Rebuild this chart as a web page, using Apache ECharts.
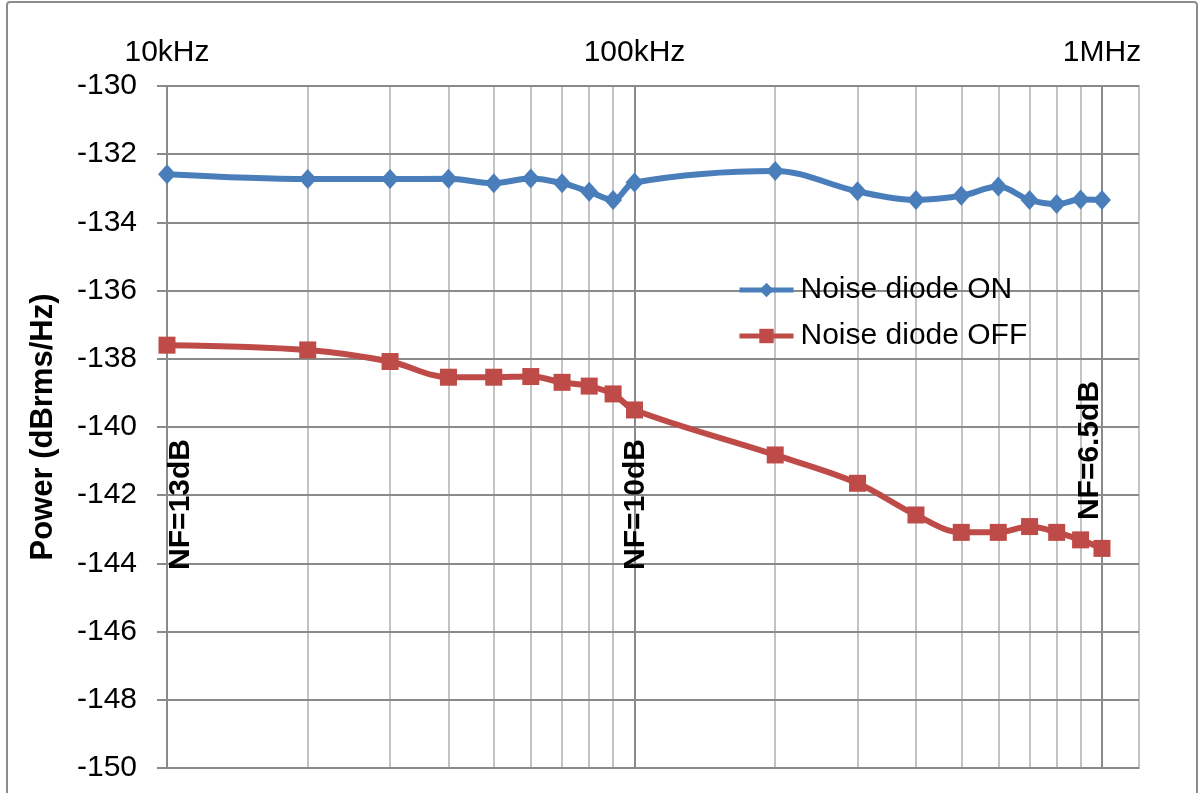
<!DOCTYPE html>
<html>
<head>
<meta charset="utf-8">
<script src="https://cdn.jsdelivr.net/npm/echarts@6/dist/echarts.min.js"></script>
<style>
	html, body { margin: 0; padding: 0; background: #fff; }
	#frame { position: absolute; left: 6px; top: 1px; width: 1188px; height: 820px; border: 2px solid #8c8c8c; border-radius: 4px; }
	#chart { position: absolute; left: 0; top: 0; width: 1199px; height: 793px; }
</style>
</head>
<body>
<div id="frame"></div>
<div id="chart"></div>
<script>
	// frequencies (Hz)
	var freqs = [10000, 20000, 30000, 40000, 50000, 60000, 70000, 80000, 90000,
		100000, 200000, 300000, 400000, 500000, 600000, 700000, 800000, 900000, 1000000];
	// power (dBrms/Hz)
	var diodeOn = [-132.59, -132.73, -132.73, -132.72, -132.85, -132.71, -132.85, -133.10, -133.34,
		-132.83, -132.49, -133.09, -133.34, -133.22, -132.95, -133.34, -133.46, -133.33, -133.34];
	var diodeOff = [-137.60, -137.74, -138.08, -138.54, -138.54, -138.52, -138.69, -138.80, -139.03,
		-139.50, -140.82, -141.65, -142.58, -143.09, -143.09, -142.92, -143.09, -143.31, -143.56];

	var seriesNames = ['Noise diode ON', 'Noise diode OFF'];

	// top axis labels
	var tickValues = [10000, 100000, 1000000];
	var tickLabels = ['10kHz', '100kHz', '1MHz'];

	// vertical grid lines
	var majorFreqs = [10000, 100000, 1000000];
	var minorFreqs = [20000, 30000, 40000, 50000, 60000, 70000, 80000, 90000,
		200000, 300000, 400000, 500000, 600000, 700000, 800000, 900000];

	// NF annotations
	var noteFreqs = [10000, 100000, 1000000];
	var noteStart = [-144.19, -144.19, -142.73];
	var noteTexts = ['NF=13dB', 'NF=10dB', 'NF=6.5dB'];
	var noteShift = [14, 1, -12];

	var FONT = '"Liberation Sans", Arial, sans-serif';
	var GRID_DARK = '#8a8a8a';
	var GRID_LIGHT = '#c3c3c3';

	function pairs(xs, ys){
		var out = [];
		for(var i = 0; i < xs.length; i++)
			out.push([xs[i], ys[i]]);
		return out;
	}

	var gridLines = [];
	for(var i = 0; i < minorFreqs.length; i++)
		gridLines.push({ xAxis: minorFreqs[i], lineStyle: { color: GRID_LIGHT, width: 2, type: 'solid' } });
	for(var j = 0; j < majorFreqs.length; j++)
		gridLines.push({ xAxis: majorFreqs[j], lineStyle: { color: GRID_DARK, width: 2, type: 'solid' } });

	// label offset is applied in the rotated frame: local y points right on screen
	var notes = [];
	for(var k = 0; k < noteTexts.length; k++){
		notes.push({
			value: [noteFreqs[k], noteStart[k]],
			name: noteTexts[k],
			label: { offset: [0, noteShift[k]] }
		});
	}

	var chart = echarts.init(document.getElementById('chart'), null, { renderer: 'canvas' });

	var option = {
		animation: false,
		backgroundColor: 'transparent',
		textStyle: { fontFamily: FONT },
		grid: {
			left: 167,
			right: 60,
			top: 86,
			bottom: 25,
			show: true,
			borderColor: GRID_LIGHT,
			borderWidth: 2
		},
		legend: {
			data: seriesNames,
			orient: 'vertical',
			left: 737,
			top: 275,
			padding: 0,
			itemWidth: 54,
			itemHeight: 18,
			itemGap: 16,
			lineStyle: { width: 5 },
			textStyle: { fontSize: 30, color: '#000', fontFamily: FONT, padding: [0, 0, 0, 2] }
		},
		xAxis: {
			type: 'log',
			logBase: 10,
			min: 10000,
			max: 1200000,
			position: 'top',
			axisLine: { show: false },
			axisTick: { show: false },
			splitLine: { show: false },
			axisLabel: {
				fontSize: 30,
				color: '#000',
				fontFamily: FONT,
				margin: 18,
				showMinLabel: true,
				formatter: function(value){
					for(var i = 0; i < tickValues.length; i++){
						if(Math.abs(value - tickValues[i]) / tickValues[i] < 1e-6)
							return tickLabels[i];
					}
					return '';
				}
			}
		},
		yAxis: {
			type: 'value',
			min: -150,
			max: -130,
			interval: 2,
			z: 1,
			name: 'Power (dBrms/Hz)',
			nameLocation: 'middle',
			nameGap: 108,
			nameTextStyle: { fontSize: 31, fontWeight: 'bold', color: '#000', fontFamily: FONT },
			axisLine: { show: true, lineStyle: { color: GRID_DARK, width: 2 } },
			axisTick: { show: true, length: 10, lineStyle: { color: GRID_DARK, width: 2 } },
			splitLine: { show: true, lineStyle: { color: GRID_DARK, width: 2 } },
			axisLabel: { fontSize: 30, color: '#000', fontFamily: FONT, margin: 30 }
		},
		series: [
			{
				name: 'grid',
				type: 'line',
				data: [],
				silent: true,
				z: 0,
				markLine: {
					silent: true,
					symbol: 'none',
					label: { show: false },
					animation: false,
					z: 0,
					data: gridLines
				}
			},
			{
				name: seriesNames[0],
				type: 'line',
				data: pairs(freqs, diodeOn),
				smooth: 0.35,
				symbol: 'diamond',
				symbolSize: [18, 20],
				z: 3,
				itemStyle: { color: '#4a7ebb' },
				lineStyle: { color: '#4a7ebb', width: 6 }
			},
			{
				name: seriesNames[1],
				type: 'line',
				data: pairs(freqs, diodeOff),
				smooth: 0.35,
				symbol: 'rect',
				symbolSize: 17,
				z: 3,
				itemStyle: { color: '#be4b48' },
				lineStyle: { color: '#be4b48', width: 6 }
			},
			{
				name: 'notes',
				type: 'scatter',
				data: notes,
				symbolSize: 0,
				silent: true,
				z: 4,
				itemStyle: { opacity: 1 },
				label: {
					show: true,
					rotate: 90,
					position: 'inside',
					align: 'left',
					verticalAlign: 'middle',
					fontSize: 30,
					fontWeight: 'bold',
					color: '#000',
					textBorderWidth: 0,
					textBorderColor: 'transparent',
					fontFamily: FONT,
					formatter: function(p){ return p.name; }
				}
			}
		]
	};

	chart.setOption(option);
</script>
</body>
</html>
